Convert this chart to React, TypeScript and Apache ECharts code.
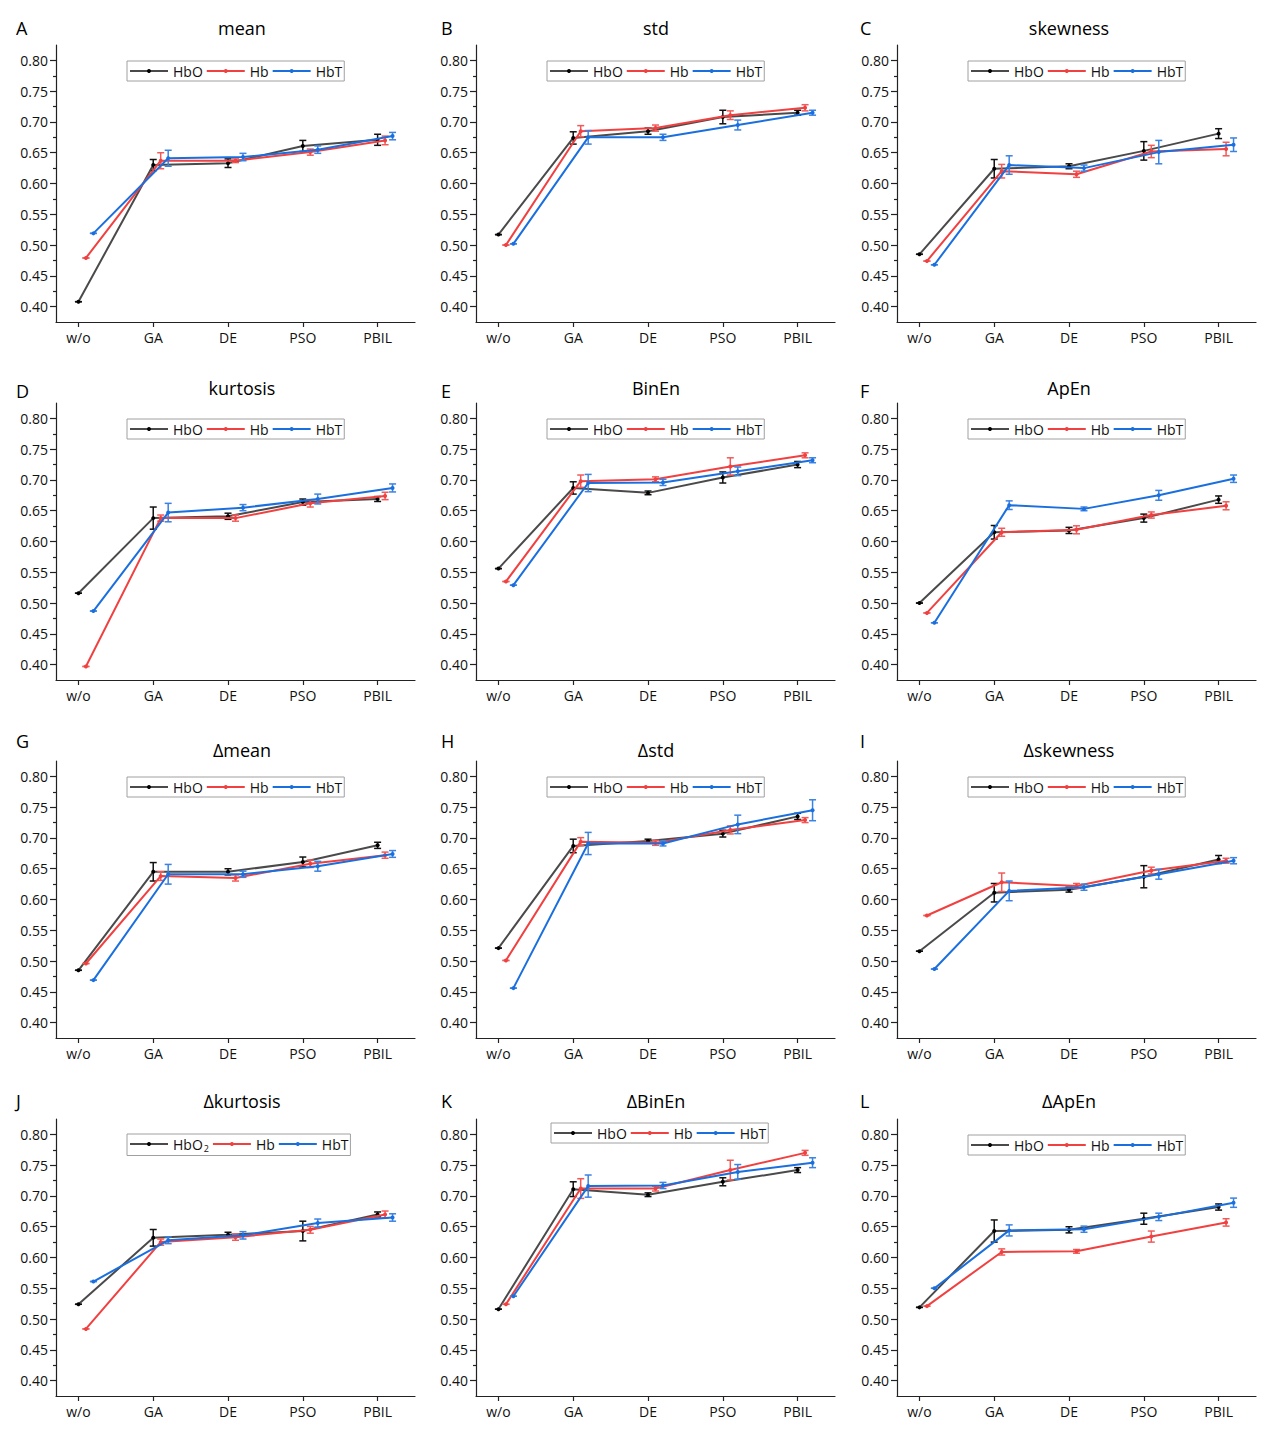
import React, { useEffect, useRef } from "react";
import * as echarts from "echarts";

const categories = ["w/o", "GA", "DE", "PSO", "PBIL"];
const seriesNames = ["HbO", "Hb", "HbT"];
const panelTitles = ["mean", "std", "skewness", "kurtosis", "BinEn", "ApEn", "Δmean", "Δstd", "Δskewness", "Δkurtosis", "ΔBinEn", "ΔApEn"];
const panelLetters = ["A", "B", "C", "D", "E", "F", "G", "H", "I", "J", "K", "L"];
const yTickValues = [0.4, 0.45, 0.5, 0.55, 0.6, 0.65, 0.7, 0.75, 0.8];
const yMinorTickValues = [0.425, 0.475, 0.525, 0.575, 0.625, 0.675, 0.725, 0.775];
const xTickValues = [1, 2, 3, 4, 5];

// values: [HbO, Hb, HbT], each over categories
const meanValues = [[0.408, 0.630, 0.633, 0.661, 0.671], [0.479, 0.637, 0.637, 0.651, 0.670], [0.519, 0.641, 0.643, 0.655, 0.677]];
const meanErrors = [[0, 0.009, 0.007, 0.009, 0.009], [0, 0.013, 0.003, 0.005, 0.007], [0, 0.013, 0.006, 0.006, 0.006]];
const stdValues = [[0.517, 0.674, 0.685, 0.708, 0.715], [0.500, 0.685, 0.690, 0.711, 0.723], [0.502, 0.675, 0.675, 0.695, 0.715]];
const stdErrors = [[0, 0.010, 0.005, 0.011, 0.004], [0, 0.009, 0.005, 0.007, 0.005], [0, 0.011, 0.005, 0.008, 0.004]];
const skewValues = [[0.485, 0.624, 0.628, 0.653, 0.681], [0.474, 0.620, 0.615, 0.652, 0.656], [0.468, 0.630, 0.625, 0.651, 0.663]];
const skewErrors = [[0, 0.015, 0.004, 0.015, 0.008], [0, 0.011, 0.005, 0.010, 0.011], [0, 0.015, 0.005, 0.019, 0.011]];
const kurtValues = [[0.516, 0.638, 0.641, 0.664, 0.669], [0.397, 0.638, 0.638, 0.662, 0.674], [0.487, 0.647, 0.655, 0.669, 0.687]];
const kurtErrors = [[0, 0.018, 0.005, 0.005, 0.004], [0, 0.005, 0.005, 0.006, 0.006], [0, 0.015, 0.005, 0.008, 0.0065]];
const binEnValues = [[0.556, 0.687, 0.679, 0.704, 0.725], [0.535, 0.698, 0.701, 0.722, 0.740], [0.529, 0.695, 0.696, 0.714, 0.732]];
const binEnErrors = [[0, 0.010, 0.003, 0.009, 0.005], [0, 0.010, 0.004, 0.014, 0.004], [0, 0.014, 0.005, 0.007, 0.004]];
const apEnValues = [[0.500, 0.615, 0.618, 0.638, 0.668], [0.484, 0.615, 0.619, 0.643, 0.658], [0.468, 0.659, 0.653, 0.675, 0.702]];
const apEnErrors = [[0, 0.011, 0.005, 0.0065, 0.006], [0, 0.0065, 0.0065, 0.005, 0.0065], [0, 0.007, 0.003, 0.008, 0.006]];
const dMeanValues = [[0.485, 0.645, 0.645, 0.661, 0.688], [0.496, 0.638, 0.635, 0.658, 0.672], [0.469, 0.641, 0.641, 0.654, 0.674]];
const dMeanErrors = [[0, 0.015, 0.005, 0.008, 0.005], [0, 0.007, 0.005, 0.006, 0.005], [0, 0.016, 0.005, 0.008, 0.0055]];
const dStdValues = [[0.521, 0.687, 0.695, 0.707, 0.735], [0.501, 0.694, 0.692, 0.713, 0.729], [0.456, 0.691, 0.691, 0.722, 0.745]];
const dStdErrors = [[0, 0.011, 0.003, 0.0055, 0.005], [0, 0.0065, 0.004, 0.0065, 0.004], [0, 0.018, 0.004, 0.015, 0.017]];
const dSkewValues = [[0.516, 0.611, 0.616, 0.637, 0.665], [0.574, 0.628, 0.622, 0.647, 0.663], [0.487, 0.614, 0.620, 0.641, 0.663]];
const dSkewErrors = [[0, 0.015, 0.004, 0.018, 0.0065], [0, 0.015, 0.004, 0.0055, 0.004], [0, 0.016, 0.005, 0.008, 0.005]];
const dKurtValues = [[0.524, 0.632, 0.637, 0.643, 0.670], [0.484, 0.625, 0.633, 0.645, 0.670], [0.561, 0.628, 0.636, 0.656, 0.665]];
const dKurtErrors = [[0, 0.0135, 0.004, 0.016, 0.004], [0, 0.005, 0.005, 0.0055, 0.0055], [0, 0.0055, 0.006, 0.0065, 0.006]];
const dBinEnValues = [[0.516, 0.711, 0.702, 0.723, 0.742], [0.524, 0.712, 0.712, 0.742, 0.770], [0.537, 0.716, 0.717, 0.739, 0.754]];
const dBinEnErrors = [[0, 0.012, 0.003, 0.0065, 0.004], [0, 0.016, 0.004, 0.016, 0.004], [0, 0.018, 0.005, 0.012, 0.008]];
const dApEnValues = [[0.519, 0.643, 0.645, 0.663, 0.682], [0.521, 0.609, 0.610, 0.634, 0.657], [0.550, 0.644, 0.646, 0.666, 0.689]];
const dApEnErrors = [[0, 0.018, 0.005, 0.009, 0.005], [0, 0.005, 0.003, 0.009, 0.006], [0, 0.009, 0.005, 0.006, 0.0075]];

const panelValues = [meanValues, stdValues, skewValues, kurtValues, binEnValues, apEnValues, dMeanValues, dStdValues, dSkewValues, dKurtValues, dBinEnValues, dApEnValues];
const panelErrors = [meanErrors, stdErrors, skewErrors, kurtErrors, binEnErrors, apEnErrors, dMeanErrors, dStdErrors, dSkewErrors, dKurtErrors, dBinEnErrors, dApEnErrors];

// styling / layout
const FONT = "'Open Sans', 'Noto Sans', sans-serif";
const lineColors = ["#4a4a4a", "#f14040", "#1a6fdf"];
const markerColors = ["#000000", "#f14040", "#1a6fdf"];
const errColors = ["#111111", "#f25a5a", "#3a82e3"];
const seriesOffsets = [0, 0.1, 0.2];
const colLeft = [56, 476, 897];
const rowTop = [45, 403, 761, 1119];
const gridW = 359;
const gridH = 277;
const titleX = [242, 656, 1069];
const titleY = [28, 388, 750, 1101];
const letterX = [16, 441, 860];
const letterY = [28, 391, 741, 1101];

function buildOption() {
  const grid: any[] = [];
  const xAxis: any[] = [];
  const yAxis: any[] = [];
  const series: any[] = [];
  const legend: any[] = [];
  const graphic: any[] = [];

  for (let p = 0; p < 12; p++) {
    const col = p % 3;
    const row = Math.floor(p / 3);
    grid.push({ left: colLeft[col], top: rowTop[row], width: gridW, height: gridH, containLabel: false });
    xAxis.push({
      type: "value", gridIndex: p, min: 0.7, max: 5.5, position: "bottom",
      axisLine: { show: true, onZero: false, lineStyle: { color: "#222", width: 1.2 } },
      axisTick: { show: true, customValues: xTickValues, length: 5, inside: false, lineStyle: { color: "#222", width: 1.2 } },
      axisLabel: { show: true, customValues: xTickValues, margin: 8, fontSize: 14, fontFamily: FONT, color: "#111",
        formatter: (v: number) => categories[Math.round(v) - 1] ?? "" },
      splitLine: { show: false },
    });
    yAxis.push({
      type: "value", gridIndex: p, min: 0.375, max: 0.825, position: "left", offset: 0,
      axisLine: { show: true, onZero: false, lineStyle: { color: "#222", width: 1.2 } },
      axisTick: { show: true, customValues: yTickValues, length: 6, lineStyle: { color: "#222", width: 1.2 } },
      axisLabel: { show: true, customValues: yTickValues, margin: 8, fontSize: 14, fontFamily: FONT, color: "#111",
        formatter: (v: number) => v.toFixed(2) },
      splitLine: { show: false },
    });
    yAxis.push({
      type: "value", gridIndex: p, min: 0.375, max: 0.825, position: "left", offset: 0,
      axisLine: { show: false, onZero: false },
      axisTick: { show: true, customValues: yMinorTickValues, length: 3, lineStyle: { color: "#222", width: 1.2 } },
      axisLabel: { show: false },
      splitLine: { show: false },
    });

    for (let s = 0; s < 3; s++) {
      const vals = panelValues[p][s];
      const errs = panelErrors[p][s];
      const pts = vals.map((v, i) => [i + 1 + seriesOffsets[s], v]);
      series.push({
        type: "line", name: seriesNames[s], xAxisIndex: p, yAxisIndex: 2 * p,
        data: pts, symbol: "circle", symbolSize: 4, showSymbol: true,
        itemStyle: { color: markerColors[s] },
        lineStyle: { color: lineColors[s], width: 2 },
        z: 2 + s, silent: true,
      });
      const ec = errColors[s];
      series.push({
        type: "custom", name: seriesNames[s] + " error", xAxisIndex: p, yAxisIndex: 2 * p,
        data: vals.map((v, i) => [i + 1 + seriesOffsets[s], v, errs[i]]),
        encode: { x: 0, y: 1 },
        z: 2 + s, silent: true,
        renderItem: (params: any, api: any) => {
          const x = api.value(0), y = api.value(1), e = api.value(2);
          const top = api.coord([x, y + e]);
          const bot = api.coord([x, y - e]);
          const hw = 3.5;
          const st = { stroke: ec, lineWidth: 1.5 };
          return {
            type: "group",
            children: [
              { type: "line", shape: { x1: top[0], y1: top[1], x2: bot[0], y2: bot[1] }, style: st },
              { type: "line", shape: { x1: top[0] - hw, y1: top[1], x2: top[0] + hw, y2: top[1] }, style: st },
              { type: "line", shape: { x1: bot[0] - hw, y1: bot[1], x2: bot[0] + hw, y2: bot[1] }, style: st },
            ],
          };
        },
      });
    }

    let lLeft = colLeft[col] + 71;
    let lTop = rowTop[row] + 16;
    if (p === 10) { lLeft = colLeft[col] + 75; lTop = rowTop[row] + 4; }
    if (p === 9) { lTop = rowTop[row] + 15; }
    legend.push({
      left: lLeft, top: lTop, orient: "horizontal",
      data: seriesNames, selectedMode: false,
      itemWidth: 38, itemHeight: 5, itemGap: 3,
      padding: [3, 2, 3, 2], borderColor: "#a0a0a0", borderWidth: 1, backgroundColor: "#ffffff",
      textStyle: p === 9
        ? { fontSize: 14, fontFamily: FONT, color: "#111", rich: { m: { fontSize: 14, fontFamily: FONT, color: "#111" }, s: { fontSize: 9, fontFamily: FONT, color: "#111", padding: [8, 0, 0, 1] } } }
        : { fontSize: 14, fontFamily: FONT, color: "#111" },
      formatter: p === 9 ? (name: string) => (name === "HbO" ? "{m|HbO}{s|2}" : name) : undefined,
    });

    graphic.push({
      type: "text", x: titleX[col], y: titleY[row],
      style: { text: panelTitles[p], fontSize: 18, fontFamily: FONT, fill: "#000", align: "center", verticalAlign: "middle" },
    });
    graphic.push({
      type: "text", x: letterX[col], y: letterY[row],
      style: { text: panelLetters[p], fontSize: 18, fontFamily: FONT, fill: "#000", align: "left", verticalAlign: "middle" },
    });
  }

  return { animation: false, backgroundColor: "#ffffff", grid, xAxis, yAxis, series, legend, graphic };
}

export default function App() {
  const ref = useRef<HTMLDivElement>(null);
  useEffect(() => {
    if (!ref.current) return;
    const chart = echarts.init(ref.current, undefined, { renderer: "svg" });
    chart.setOption(buildOption() as any);
    return () => chart.dispose();
  }, []);
  return <div ref={ref} style={{ position: "absolute", left: 0, top: 0, width: 1276, height: 1445 }} />;
}
